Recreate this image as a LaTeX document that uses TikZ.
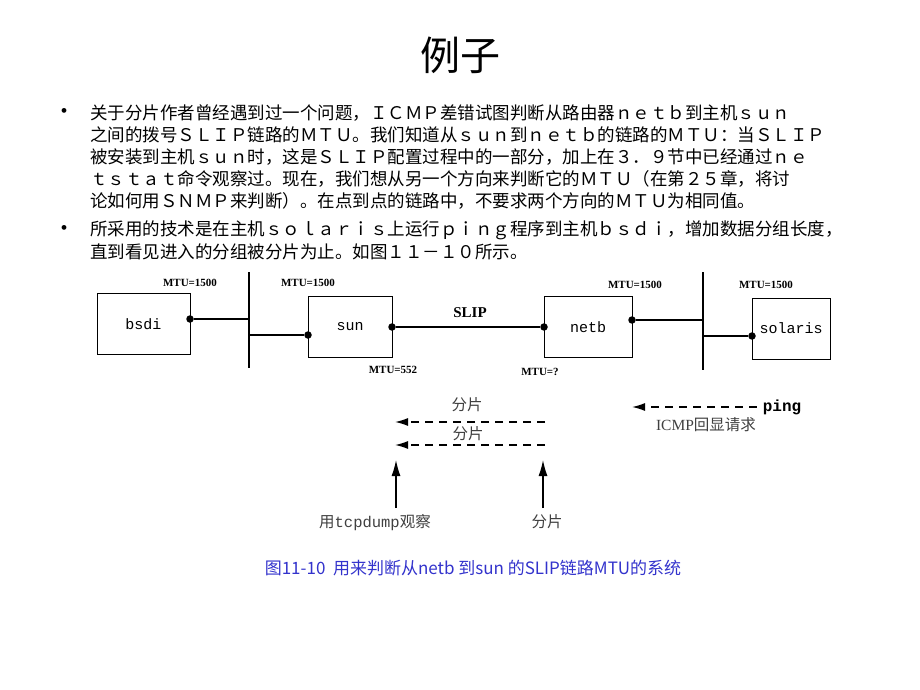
\documentclass[tikz,border=0pt]{standalone}
\usepackage{fontspec}
\setmainfont{Liberation Serif}
\setmonofont{Liberation Mono}
\newfontfamily\cjk{Noto Sans CJK SC}
\usetikzlibrary{arrows.meta}
\begin{document}
\begin{tikzpicture}[x=1pt,y=-1pt,
 box/.style={draw,thick,minimum width=#1,minimum height=61pt,inner sep=0pt,font=\ttfamily\fontsize{15}{15}\selectfont},
 dot/.style={circle,fill,inner sep=0pt,minimum size=7.5pt},
 bus/.style={line width=2.4pt},
 lnk/.style={line width=1.3pt},
 mtu/.style={font=\fontsize{11}{10}\selectfont\bfseries,inner sep=0pt},
 body/.style={anchor=west,inner sep=0pt,font=\cjk\fontsize{17.5}{18}\selectfont},
 lab/.style={inner sep=0pt,font=\cjk\fontsize{15.5}{15}\selectfont,text=black!75},
 darr/.style={line width=1.3pt,dash pattern=on 8pt off 6pt,-{Latex[length=13pt,width=8pt]}},
 uarr/.style={line width=1.3pt,-{Latex[length=16pt,width=9pt]}}]
\useasboundingbox (0,0) rectangle (920,690);
\node[font=\cjk\fontsize{40}{40}\selectfont] (title) at (460,55) {例子};
\foreach \y in {113,230} \node[inner sep=0pt,font=\fontsize{20}{20}\selectfont] at (64,\y) {•};
\node[body] (l1) at (90,113) {关于分片作者曾经遇到过一个问题，ＩＣＭＰ差错试图判断从路由器ｎｅｔｂ到主机ｓｕｎ};
\node[body] (l2) at (90,135) {之间的拨号ＳＬＩＰ链路的ＭＴＵ。我们知道从ｓｕｎ到ｎｅｔｂ的链路的ＭＴＵ：当ＳＬＩＰ};
\node[body] (l3) at (90,157) {被安装到主机ｓｕｎ时，这是ＳＬＩＰ配置过程中的一部分，加上在３．９节中已经通过ｎｅ};
\node[body] (l4) at (90,179) {ｔｓｔａｔ命令观察过。现在，我们想从另一个方向来判断它的ＭＴＵ（在第２５章，将讨};
\node[body] (l5) at (90,201) {论如何用ＳＮＭＰ来判断）。在点到点的链路中，不要求两个方向的ＭＴＵ为相同值。};
\node[body] (l6) at (90,230) {所采用的技术是在主机ｓｏｌａｒｉｓ上运行ｐｉｎｇ程序到主机ｂｓｄｉ，增加数据分组长度，};
\node[body] (l7) at (90,252) {直到看见进入的分组被分片为止。如图１１－１０所示。};
% boxes
\node[box=93pt] (bsdi) at (143.5,324) {bsdi};
\node[box=84pt] (sun) at (350,326.5) {sun};
\node[box=88pt] (netb) at (588,327) {netb};
\node[box=78pt] (sol) at (791,328.5) {solaris};
% buses
\coordinate (b1t) at (249,272); \coordinate (b1b) at (249,368);
\coordinate (b2t) at (703,272); \coordinate (b2b) at (703,370);
\draw[bus] (b1t) -- (b1b);
\draw[bus] (b2t) -- (b2b);
% dots
\node[dot] (d1) at (190,319) {};
\node[dot] (d2) at (308,335) {};
\node[dot] (d3) at (392,327) {};
\node[dot] (d4) at (544,327) {};
\node[dot] (d5) at (632,320) {};
\node[dot] (d6) at (752,336) {};
\draw[lnk] (d1) -- (d1 -| b1t);
\draw[lnk] (d2 -| b1t) -- (d2);
\draw[lnk] (d3) -- (d4);
\draw[lnk] (d5) -- (d5 -| b2t);
\draw[lnk] (d6 -| b2t) -- (d6);
\node[font=\fontsize{15}{15}\selectfont\bfseries] (slip) at (470,313) {SLIP};
\node[mtu] (m1) at (190,283) {MTU=1500};
\node[mtu] (m2) at (308,283) {MTU=1500};
\node[mtu] (m3) at (635,285) {MTU=1500};
\node[mtu] (m4) at (766,285) {MTU=1500};
\node[mtu] (m5) at (393,370) {MTU=552};
\node[mtu] (m6) at (540,372) {MTU=?};
% lower part
\coordinate (a1s) at (545,422); \coordinate (a1e) at (395,422);
\coordinate (a2s) at (545,445); \coordinate (a2e) at (395,445);
\draw[darr] (a1s) -- (a1e);
\draw[darr] (a2s) -- (a2e);
\node[lab] (f1) at (467,405) {分片};
\node[lab] (f2) at (468,434) {分片};
\node[font=\ttfamily\bfseries\fontsize{16}{16}\selectfont,inner sep=0pt] (ping) at (782,407) {ping};
\draw[darr] (ping.west) ++(-6,0) -- (632,407);
\node[lab] (icmp) at (706,425) {\rmfamily ICMP\cjk 回显请求};
\node[lab] (tcp) at (375,523) {用\ttfamily tcpdump\cjk 观察};
\node[lab] (f3) at (547,522) {分片};
\draw[uarr] (396,508) -- (396,460);
\draw[uarr] (543,508) -- (543,460);
\node[inner sep=0pt,text={rgb,255:red,51;green,51;blue,204},font=\cjk\fontsize{17}{17}\selectfont] (cap) at (473,568) {图11-10\ \ 用来判断从netb 到sun 的SLIP链路MTU的系统};
\end{tikzpicture}
\end{document}
